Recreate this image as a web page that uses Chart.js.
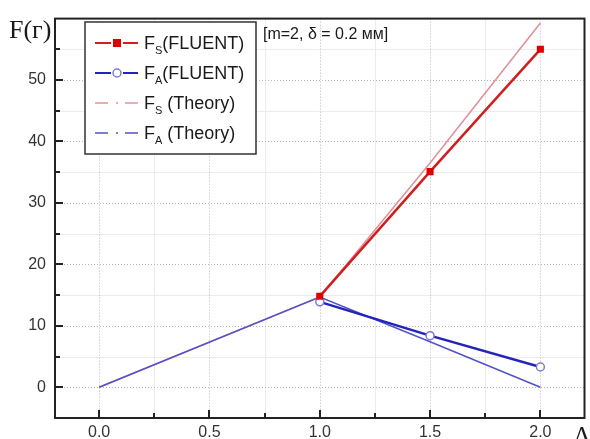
<!DOCTYPE html>
<html>
<head>
<meta charset="utf-8">
<script src="https://cdn.jsdelivr.net/npm/chart.js@4.4.1/dist/chart.umd.min.js"></script>
<style>
  html, body { margin: 0; padding: 0; background: #fff; }
</style>
</head>
<body>
<canvas id="forceChart" width="590" height="439"></canvas>
<script>
// values
const lambdaFluent = [1.0, 1.5, 2.0];
const fsFluent = [14.8, 35.1, 55.0];
const faFluent = [13.9, 8.4, 3.3];
const lambdaTheory = [0, 1.0, 1.5, 2.0];
const fsTheory = [0, 14.7, 36.5, 59.3];
const faTheory = [0, 14.7, 7.4, 0];

const xTicks = [0, 0.5, 1.0, 1.5, 2.0];
const xMinor = [0.25, 0.75, 1.25, 1.75];
const yTicks = [0, 10, 20, 30, 40, 50];
const yMinor = [5, 15, 25, 35, 45, 55];

const SANS = '"Liberation Sans", Arial, sans-serif';
const SERIF = '"Liberation Serif", "Times New Roman", serif';

const pts = (xs, ys) => xs.map((x, i) => ({ x: x, y: ys[i] }));

const COL = {
    fsFluent: '#d01f1f',
    fsMarker: '#e00000',
    faFluent: '#2424b8',
    faMarker: '#7b7bd6',
    fsTheory: '#e0929a',
    faTheory: '#5252cc',
};

const legendItems = [
    { color: COL.fsFluent, marker: 'rect', sub: 'S', text: '(FLUENT)' },
    { color: COL.faFluent, marker: 'circle', sub: 'A', text: '(FLUENT)' },
    { color: COL.fsTheory, marker: null, sub: 'S', text: ' (Theory)' },
    { color: COL.faTheory, marker: null, sub: 'A', text: ' (Theory)' },
];

const crisp = v => Math.round(v) + 0.5;

// grid, frame and inward ticks
const framePlugin = {
    id: 'framePlugin',
    beforeDatasetsDraw(chart) {
        const { ctx, chartArea: a, scales } = chart;
        const xs = scales.x, ys = scales.y;
        ctx.save();
        ctx.lineWidth = 1;
        ctx.strokeStyle = '#ececec';
        xMinor.forEach(v => {
            const px = crisp(xs.getPixelForValue(v));
            ctx.beginPath(); ctx.moveTo(px, a.top); ctx.lineTo(px, a.bottom); ctx.stroke();
        });
        yMinor.forEach(v => {
            const py = crisp(ys.getPixelForValue(v));
            ctx.beginPath(); ctx.moveTo(a.left, py); ctx.lineTo(a.right, py); ctx.stroke();
        });
        ctx.strokeStyle = '#b8b8b8';
        ctx.setLineDash([1, 2]);
        xTicks.forEach(v => {
            const px = crisp(xs.getPixelForValue(v));
            ctx.beginPath(); ctx.moveTo(px, a.top); ctx.lineTo(px, a.bottom); ctx.stroke();
        });
        yTicks.forEach(v => {
            const py = crisp(ys.getPixelForValue(v));
            ctx.beginPath(); ctx.moveTo(a.left, py); ctx.lineTo(a.right, py); ctx.stroke();
        });
        ctx.restore();
    },
    afterDatasetsDraw(chart) {
        const { ctx, chartArea: a, scales } = chart;
        const xs = scales.x, ys = scales.y;
        ctx.save();
        ctx.strokeStyle = '#222';
        ctx.lineWidth = 2;
        ctx.strokeRect(a.left, a.top, a.right - a.left, a.bottom - a.top);

        const tick = (vals, len) => {
            vals.forEach(v => {
                const px = Math.round(xs.getPixelForValue(v));
                ctx.beginPath(); ctx.moveTo(px, a.bottom); ctx.lineTo(px, a.bottom - len); ctx.stroke();
            });
        };
        tick(xTicks, 8);
        tick(xMinor, 5);
        const ytick = (vals, len) => {
            vals.forEach(v => {
                const py = Math.round(ys.getPixelForValue(v));
                ctx.beginPath(); ctx.moveTo(a.left, py); ctx.lineTo(a.left + len, py); ctx.stroke();
            });
        };
        ytick(yTicks, 8);
        ytick(yMinor, 5);
        ctx.restore();
    },
    afterDraw(chart) {
        const { ctx } = chart;
        ctx.save();

        // axis titles
        ctx.fillStyle = '#1a1a1a';
        ctx.font = '26px ' + SERIF;
        ctx.textAlign = 'left';
        ctx.textBaseline = 'alphabetic';
        ctx.fillText('F(\u0433)', 9, 38);
        ctx.font = '25px ' + SERIF;
        ctx.textAlign = 'center';
        ctx.fillText('\u039b', 582, 444);

        // note
        ctx.font = '16px ' + SANS;
        ctx.textAlign = 'left';
        ctx.textBaseline = 'middle';
        ctx.fillText('[m=2, \u03b4 = 0.2 \u043c\u043c]', 263, 35);

        // legend box
        const bx = 85, by = 22, bw = 171, bh = 132;
        ctx.fillStyle = '#fff';
        ctx.fillRect(bx, by, bw, bh);
        ctx.strokeStyle = '#333';
        ctx.lineWidth = 1.5;
        ctx.strokeRect(bx, by, bw, bh);

        legendItems.forEach((it, i) => {
            const cy = 43 + i * 30;
            ctx.strokeStyle = it.color;
            if (it.marker) {
                ctx.lineWidth = 2;
                ctx.beginPath(); ctx.moveTo(95, cy); ctx.lineTo(111, cy); ctx.stroke();
                ctx.beginPath(); ctx.moveTo(123, cy); ctx.lineTo(138, cy); ctx.stroke();
                if (it.marker === 'rect') {
                    ctx.fillStyle = COL.fsMarker;
                    ctx.fillRect(113, cy - 4, 8, 8);
                } else {
                    ctx.fillStyle = '#fff';
                    ctx.strokeStyle = COL.faMarker;
                    ctx.lineWidth = 1.5;
                    ctx.beginPath(); ctx.arc(117, cy, 4, 0, Math.PI * 2); ctx.fill(); ctx.stroke();
                }
            } else {
                ctx.lineWidth = 1.5;
                ctx.beginPath(); ctx.moveTo(95, cy); ctx.lineTo(108, cy); ctx.stroke();
                ctx.beginPath(); ctx.moveTo(116, cy); ctx.lineTo(118, cy); ctx.stroke();
                ctx.beginPath(); ctx.moveTo(125, cy); ctx.lineTo(138, cy); ctx.stroke();
            }
            ctx.fillStyle = '#1a1a1a';
            ctx.textBaseline = 'alphabetic';
            ctx.textAlign = 'left';
            ctx.font = '18px ' + SANS;
            const base = cy + 6;
            ctx.fillText('F', 144, base);
            let tx = 144 + ctx.measureText('F').width;
            ctx.font = '11px ' + SANS;
            ctx.fillText(it.sub, tx, base + 5);
            tx += ctx.measureText(it.sub).width;
            ctx.font = '18px ' + SANS;
            ctx.fillText(it.text, tx, base);
        });
        ctx.restore();
    }
};

const data = {
    datasets: [
        {
            label: 'FS(FLUENT)',
            data: pts(lambdaFluent, fsFluent),
            borderColor: COL.fsFluent,
            backgroundColor: COL.fsMarker,
            borderWidth: 2.5,
            pointStyle: 'rect',
            pointRadius: 5,
            pointBorderWidth: 0,
            order: 0,
        },
        {
            label: 'FA(FLUENT)',
            data: pts(lambdaFluent, faFluent),
            borderColor: COL.faFluent,
            backgroundColor: '#fff',
            pointBorderColor: COL.faMarker,
            pointBorderWidth: 1.5,
            borderWidth: 2.5,
            pointStyle: 'circle',
            pointRadius: 4,
            order: 1,
        },
        {
            label: 'FA (Theory)',
            data: pts(lambdaTheory, faTheory),
            borderColor: COL.faTheory,
            borderWidth: 1.5,
            pointRadius: 0,
            order: 2,
        },
        {
            label: 'FS (Theory)',
            data: pts(lambdaTheory, fsTheory),
            borderColor: COL.fsTheory,
            borderWidth: 1.6,
            pointRadius: 0,
            order: 3,
        },
    ],
};

new Chart(document.getElementById('forceChart'), {
    type: 'scatter',
    data: data,
    options: {
        responsive: false,
        animation: false,
        showLine: true,
        layout: { padding: { top: 16, right: 2, left: 0, bottom: 0 } },
        plugins: {
            legend: { display: false },
            tooltip: { enabled: false },
        },
        elements: { line: { tension: 0 } },
        scales: {
            x: {
                type: 'linear',
                min: -0.2,
                max: 2.2,
                grid: { display: false, drawTicks: false },
                border: { display: false },
                afterBuildTicks: s => { s.ticks = xTicks.map(v => ({ value: v })); },
                afterFit: s => { s.height = 21; },
                ticks: {
                    padding: 5,
                    color: '#333',
                    font: { family: SANS, size: 16 },
                    callback: v => v.toFixed(1),
                },
            },
            y: {
                type: 'linear',
                min: -5,
                max: 60,
                grid: { display: false, drawTicks: false },
                border: { display: false },
                afterBuildTicks: s => { s.ticks = yTicks.map(v => ({ value: v })); },
                afterFit: s => { s.width = 55; },
                ticks: {
                    padding: 9,
                    color: '#333',
                    font: { family: SANS, size: 16 },
                    callback: v => String(v),
                },
            },
        },
    },
    plugins: [framePlugin],
});
</script>
</body>
</html>
